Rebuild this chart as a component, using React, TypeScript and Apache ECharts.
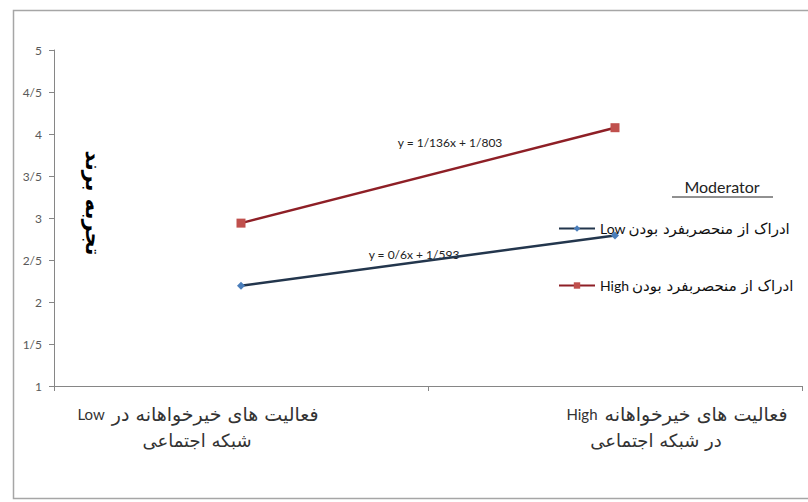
import React, { useEffect, useRef } from "react";
import * as echarts from "echarts";

const categories = ["Low", "High"];
const lowSeriesName = "Low ادراک از منحصربفرد بودن";
const highSeriesName = "High ادراک از منحصربفرد بودن";
const lowValues = [2.193, 2.793];
const highValues = [2.939, 4.075];
const yMin = 1;
const yMax = 5;
const yStep = 0.5;
const xLabelLatin = ["Low", "High"];
const xLabelLine1 = ["فعالیت های خیرخواهانه در", "فعالیت های خیرخواهانه"];
const xLabelLine2 = ["شبکه اجتماعی", "در شبکه اجتماعی"];
const lowEquation = "y = 0/6x + 1/593";
const highEquation = "y = 1/136x + 1/803";
const yTitle = "تجربه برند";
const legendTitle = "Moderator";

const FONT = "Lato, 'DejaVu Sans', sans-serif";
const FA_FONT = "'DejaVu Sans', sans-serif";

export default function App() {
  const ref = useRef<HTMLDivElement>(null);
  useEffect(() => {
    if (!ref.current) return;
    const chart = echarts.init(ref.current, undefined, { renderer: "svg" });
    chart.setOption({
      animation: false,
      backgroundColor: "#ffffff",
      grid: { left: 54, right: 6, top: 50, bottom: 116, containLabel: false },
      xAxis: {
        type: "category",
        data: categories,
        boundaryGap: true,
        axisLine: { lineStyle: { color: "#868686", width: 1 } },
        axisTick: { show: true, length: 5, lineStyle: { color: "#868686" } },
        axisLabel: { show: false },
        splitLine: { show: false },
      },
      yAxis: {
        type: "value",
        min: yMin,
        max: yMax,
        interval: yStep,
        axisLine: { show: true, lineStyle: { color: "#868686", width: 1 } },
        axisTick: { show: true, length: 5, lineStyle: { color: "#868686" } },
        axisLabel: {
          margin: 12,
          color: "#595959",
          fontSize: 12,
          fontFamily: FONT,
          formatter: (v: number) => String(v).replace(".", "/"),
        },
        splitLine: { show: false },
      },
      legend: {
        orient: "vertical",
        left: 553,
        top: 216,
        itemWidth: 36,
        itemHeight: 8,
        itemGap: 42,
        formatter: (name: string) => {
          const k = name.indexOf(" ");
          return `{lat|${name.slice(0, k)}}{fa|${name.slice(k + 1)}}`;
        },
        textStyle: {
          color: "#111",
          rich: {
            lat: { fontSize: 14, fontFamily: FONT, color: "#111", padding: [0, 3, 0, 0] },
            fa: { fontSize: 15, fontFamily: FA_FONT, color: "#111" },
          },
        },
        data: [lowSeriesName, highSeriesName],
      },
      series: [
        {
          name: lowSeriesName,
          type: "line",
          data: lowValues,
          symbol: "diamond",
          symbolSize: 8,
          itemStyle: { color: "#4a7ebb" },
          lineStyle: { color: "#23364d", width: 2.5 },
        },
        {
          name: highSeriesName,
          type: "line",
          data: highValues,
          symbol: "rect",
          symbolSize: 9,
          itemStyle: { color: "#c0504d" },
          lineStyle: { color: "#8e1f26", width: 2.5 },
        },
      ],
    });

    const px = categories.map((c) => chart.convertToPixel({ xAxisIndex: 0 }, c) as number);
    const line1Offsets = [-43, 62];
    const line2Offsets = [-44, 41];
    const xTexts: any[] = [];
    categories.forEach((_, i) => {
      xTexts.push({
        type: "text",
        x: px[i] + line1Offsets[i],
        y: 414,
        style: {
          text: `{lat|${xLabelLatin[i]}}{fa|${xLabelLine1[i]}}`,
          align: "center",
          verticalAlign: "middle",
          rich: {
            lat: { fontSize: 15, fontFamily: FONT, fill: "#333", color: "#333", padding: [0, 7, 0, 0] },
            fa: { fontSize: 19, fontFamily: FA_FONT, fill: "#333", color: "#333" },
          },
        },
      });
      xTexts.push({
        type: "text",
        x: px[i] + line2Offsets[i],
        y: 440,
        style: {
          text: xLabelLine2[i],
          align: "center",
          verticalAlign: "middle",
          fill: "#333",
          fontSize: 18,
          fontFamily: FA_FONT,
        },
      });
    });

    chart.setOption({
      graphic: [
        {
          type: "rect",
          shape: { x: 13.5, y: 10.5, width: 820, height: 488 },
          style: { fill: "none", stroke: "#a6a6a6", lineWidth: 1.5 },
          z: -1,
        },
        {
          type: "text",
          x: 93,
          y: 203,
          rotation: -Math.PI / 2,
          style: {
            text: yTitle,
            align: "center",
            verticalAlign: "middle",
            fill: "#000",
            fontSize: 21,
            fontWeight: "bold",
            fontFamily: FA_FONT,
          },
        },
        {
          type: "text",
          x: 450,
          y: 142,
          style: { text: highEquation, align: "center", verticalAlign: "middle", fill: "#222", fontSize: 12, fontFamily: FONT },
        },
        {
          type: "text",
          x: 414,
          y: 254,
          style: { text: lowEquation, align: "center", verticalAlign: "middle", fill: "#222", fontSize: 12, fontFamily: FONT },
        },
        {
          type: "text",
          x: 722,
          y: 186,
          style: { text: legendTitle, align: "center", verticalAlign: "middle", fill: "#222", fontSize: 16, fontFamily: FONT },
        },
        {
          type: "line",
          shape: { x1: 672, y1: 197, x2: 773, y2: 197 },
          style: { stroke: "#222", lineWidth: 1 },
        },
        ...xTexts,
      ],
    });

    return () => chart.dispose();
  }, []);
  return <div ref={ref} style={{ position: "fixed", left: 0, top: 0, width: 808, height: 502 }} />;
}
